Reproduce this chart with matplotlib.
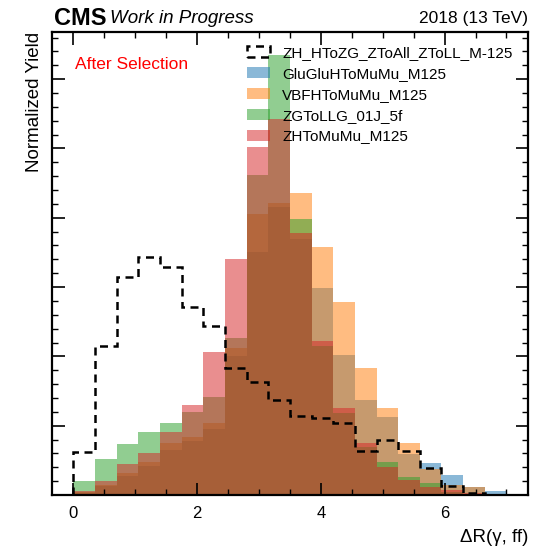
import numpy as np
import matplotlib
matplotlib.use("Agg")
import matplotlib.pyplot as plt
from matplotlib.ticker import MultipleLocator, AutoMinorLocator, NullFormatter

plt.rcParams['font.family'] = ['Liberation Sans', 'DejaVu Sans']

# binning: 20 bins over 0..7
edges = np.linspace(0, 7, 21)
centers = 0.5 * (edges[:-1] + edges[1:])

# normalized yields
zh_zg = [0.125, 0.431, 0.629, 0.688, 0.659, 0.543, 0.488, 0.366, 0.327, 0.274,
         0.228, 0.222, 0.209, 0.128, 0.159, 0.128, 0.077, 0.026, 0.006, 0.0]
ggh = [0.006, 0.025, 0.055, 0.085, 0.130, 0.155, 0.190, 0.400, 0.700, 0.830,
       0.740, 0.597, 0.404, 0.274, 0.224, 0.118, 0.091, 0.058, 0.024, 0.012]
vbf = [0.008, 0.030, 0.063, 0.095, 0.150, 0.167, 0.209, 0.424, 0.810, 0.844,
       0.871, 0.717, 0.558, 0.366, 0.250, 0.151, 0.074, 0.029, 0.024, 0.0]
zg = [0.040, 0.104, 0.147, 0.182, 0.208, 0.240, 0.284, 0.453, 0.924, 1.270,
      0.796, 0.430, 0.237, 0.139, 0.096, 0.053, 0.034, 0.010, 0.004, 0.0]
zh_mumu = [0.012, 0.040, 0.089, 0.121, 0.182, 0.260, 0.414, 0.681, 1.003, 1.085,
           0.757, 0.445, 0.250, 0.150, 0.082, 0.043, 0.024, 0.014, 0.006, 0.0]

filled = [("GluGluHToMuMu_M125", ggh, "tab:blue"),
          ("VBFHToMuMu_M125", vbf, "tab:orange"),
          ("ZGToLLG_01J_5f", zg, "tab:green"),
          ("ZHToMuMu_M125", zh_mumu, "tab:red")]

fig = plt.figure(figsize=(5.4, 5.47), dpi=100)
ax = fig.add_axes([0.0956, 0.095, 0.978 - 0.0956, 0.9415 - 0.095])

handles = []
for name, vals, col in filled:
    _, _, p = ax.hist(centers, bins=edges, weights=vals, histtype='stepfilled',
                      color=col, alpha=0.52, label=name)
    handles.append(p[0])

_, _, p = ax.hist(centers, bins=edges, weights=zh_zg, histtype='step',
                  color='black', linestyle=(0, (3.2, 2.2)), linewidth=1.8,
                  label="ZH_HToZG_ZToAll_ZToLL_M-125")
handles.insert(0, p[0])

ax.set_xlim(-0.35, 7.35)
ax.set_ylim(0, 1.336)
ax.xaxis.set_major_locator(MultipleLocator(2))
ax.xaxis.set_minor_locator(MultipleLocator(0.5))
ax.yaxis.set_major_locator(MultipleLocator(0.2))
ax.yaxis.set_minor_locator(AutoMinorLocator(5))
ax.yaxis.set_major_formatter(NullFormatter())
ax.tick_params(which='both', direction='in', top=True, right=True, labelsize=12)
ax.tick_params(which='major', length=9, width=1.2, pad=8)
ax.tick_params(which='minor', length=4.5, width=1)
for s in ax.spines.values():
    s.set_linewidth(1.6)

ax.set_xlabel("ΔR(γ, ff)", fontsize=13.5, loc='right', labelpad=6)
ax.set_ylabel("Normalized Yield", fontsize=13.5, loc='top', labelpad=-2)

fig.text(0.1, 0.966, "CMS", fontsize=17, fontweight='bold', va='center')
fig.text(0.204, 0.966, "Work in Progress", fontsize=13.5, style='italic', va='center')
fig.text(0.978, 0.966, "2018 (13 TeV)", fontsize=12.5, ha='right', va='center')
ax.text(0.05, 0.93, "After Selection", color='red', fontsize=12.5,
        transform=ax.transAxes, va='center')

ax.legend(handles=handles, loc='upper left', frameon=False, fontsize=11,
          bbox_to_anchor=(247 / 540, 1 - 46 / 547), bbox_transform=fig.transFigure,
          borderpad=0, borderaxespad=0, handlelength=1.5, handletextpad=0.8,
          labelspacing=0.45)

fig.savefig("out.png", dpi=100)
